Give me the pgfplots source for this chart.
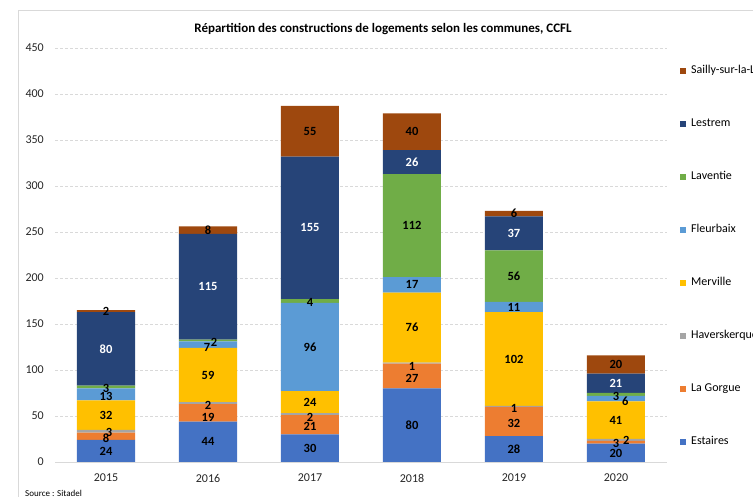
\documentclass[border=0pt]{standalone}
\usepackage{pgfplots}
\pgfplotsset{compat=1.18}
\usepackage{fontspec}
\setmainfont{Carlito}
\definecolor{cEst}{HTML}{4472C4}
\definecolor{cGor}{HTML}{ED7D31}
\definecolor{cHav}{HTML}{A5A5A5}
\definecolor{cMer}{HTML}{FFC000}
\definecolor{cFle}{HTML}{5B9BD5}
\definecolor{cLav}{HTML}{70AD47}
\definecolor{cLes}{HTML}{264478}
\definecolor{cSai}{HTML}{9E480E}
\definecolor{gridc}{HTML}{D9D9D9}
\pgfplotsset{
  sq/.style={legend image code/.code={\fill[##1] (0pt,-3pt) rectangle (6pt,3pt);}},
  lab/.style={only marks, mark=none, nodes near coords={\pgfplotspointmeta},
    point meta=explicit symbolic,
    every node near coord/.style={anchor=center, inner sep=0pt, font=\fontsize{12.5}{14}\selectfont\bfseries, text=#1}},
  lab/.default=black
}
\begin{document}
\begin{tikzpicture}[x=1pt,y=1pt]
\begin{axis}[
  at={(0,0)}, anchor=south west,
  scale only axis, width=612pt, height=414pt,
  xmin=-0.5, xmax=5.5, ymin=0, ymax=450,
  enlargelimits=false, clip=false,
  ybar stacked, bar width=58pt,
  xtick={0,1,2,3,4,5}, xticklabels={2015,2016,2017,2018,2019,2020},
  ytick={0,50,...,450},
  axis lines*=left,
  x axis line style={draw=gridc, line width=0.8pt},
  y axis line style={draw=none},
  major tick length=0pt,
  ymajorgrids, grid style={gridc, dash pattern=on 3pt off 2pt, line width=0.7pt},
  /pgf/number format/assume math mode=true,
  tick label style={font=\fontsize{12}{14}\selectfont, text=black!85, inner sep=0pt},
  yticklabel style={anchor=east, xshift=-11pt},
  xticklabel style={anchor=north, yshift=-12pt},
  title={\textbf{Répartition des constructions de logements selon les communes, CCFL}},
  title style={at={(rel axis cs:0.536,1)}, anchor=center, yshift=13pt, font=\fontsize{13}{15}\selectfont, inner sep=0pt},
  reverse legend,
  legend cell align=left,
  legend style={at={(rel axis cs:1,1)}, anchor=north west, xshift=13pt, yshift=-17.7pt,
    draw=none, fill=none, inner sep=0pt, row sep=43pt, column sep=5pt,
    font=\fontsize{12}{14}\selectfont,
    nodes={inner sep=0pt, text height=8pt, text depth=2pt}},
]
\addplot[fill=cEst, draw=none, sq] coordinates {(0,24) (1,44) (2,30) (3,80) (4,28) (5,20)};
\addlegendentry{Estaires}
\addplot[fill=cGor, draw=none, sq] coordinates {(0,8) (1,19) (2,21) (3,27) (4,32) (5,3)};
\addlegendentry{La Gorgue}
\addplot[fill=cHav, draw=none, sq] coordinates {(0,3) (1,2) (2,2) (3,1) (4,1) (5,2)};
\addlegendentry{Haverskerque}
\addplot[fill=cMer, draw=none, sq] coordinates {(0,32) (1,59) (2,24) (3,76) (4,102) (5,41)};
\addlegendentry{Merville}
\addplot[fill=cFle, draw=none, sq] coordinates {(0,13) (1,7) (2,96) (3,17) (4,11) (5,6)};
\addlegendentry{Fleurbaix}
\addplot[fill=cLav, draw=none, sq] coordinates {(0,3) (1,2) (2,4) (3,112) (4,56) (5,3)};
\addlegendentry{Laventie}
\addplot[fill=cLes, draw=none, sq] coordinates {(0,80) (1,115) (2,155) (3,26) (4,37) (5,21)};
\addlegendentry{Lestrem}
\addplot[fill=cSai, draw=none, sq] coordinates {(0,2) (1,8) (2,55) (3,40) (4,6) (5,20)};
\addlegendentry{Sailly-sur-la-Lys}
\end{axis}
\begin{axis}[
  at={(0,0)}, anchor=south west,
  scale only axis, width=612pt, height=414pt,
  xmin=-0.5, xmax=5.5, ymin=0, ymax=450,
  enlargelimits=false, clip=false, axis lines=none,
]
% Estaires
\addplot[lab] coordinates {(0,12)[24] (1,22)[44] (2,15)[30] (3,40)[80] (4,14)[28] (5,9)[20]};
% La Gorgue
\addplot[lab] coordinates {(0,25.5)[8] (1,49)[19] (2,38.5)[21] (3,91)[27] (4,42)[32] (5,20)[3]};
% Haverskerque
\addplot[lab] coordinates {(0.03,32)[3] (1,62)[2] (2,49)[2] (3,104)[1] (4,58)[1] (5.1,23)[2]};
% Merville
\addplot[lab] coordinates {(0,51)[32] (1,94.5)[59] (2,65)[24] (3,146)[76] (4,112)[102] (5,45.5)[41]};
% Fleurbaix
\addplot[lab] coordinates {(0,71)[13] (0.99,125)[7] (2,125)[96] (3,192.5)[17] (4,168.5)[11] (5.09,66)[6]};
% Laventie
\addplot[lab] coordinates {(0,79.5)[3] (1.06,130)[2] (2,173.5)[4] (3,257)[112] (4,202)[56] (5,71)[3]};
% Lestrem
\addplot[lab=white] coordinates {(0,123)[80] (1,190.5)[115] (2,254.5)[155] (3,326)[26] (4,248.5)[37] (5,85.5)[21]};
% Sailly
\addplot[lab] coordinates {(0,164)[2] (1,252)[8] (2,359.5)[55] (3,359)[40] (4,270)[6] (5,106)[20]};
\node[anchor=west, font=\fontsize{9}{10}\selectfont, inner sep=0pt] at (rel axis cs:0,0) [xshift=-30pt, yshift=-31pt] {Source : Sitadel};
\end{axis}
\draw[gridc, line width=0.8pt] (-37,-40) -- (-37,452) -- (710,452);
\pgfresetboundingbox
\path (-55,-35) rectangle (698,462);
\end{tikzpicture}
\end{document}
